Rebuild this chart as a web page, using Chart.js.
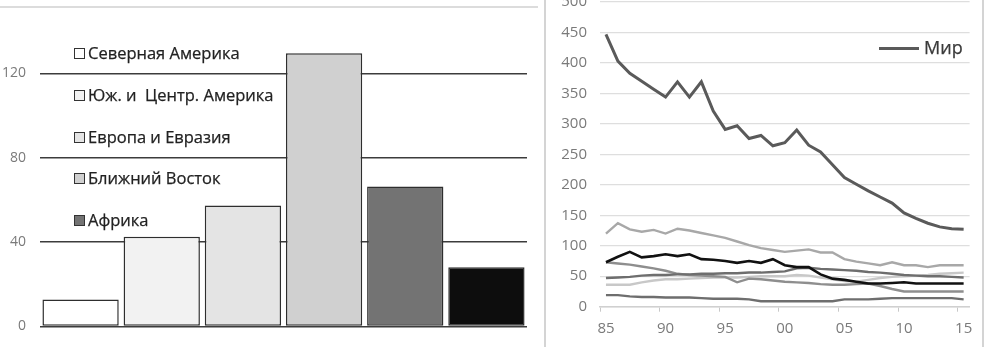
<!DOCTYPE html>
<html>
<head>
<meta charset="utf-8">
<script src="https://cdn.jsdelivr.net/npm/chart.js@4.4.0/dist/chart.umd.min.js"></script>
<style>
body { margin: 0; background: #fff; font-family: "Open Sans", sans-serif; }
#page { position: relative; width: 985px; height: 347px; overflow: hidden; }
#leftBox { position: absolute; left: 0; top: 0; width: 540px; height: 347px; }
#rightBox { position: absolute; left: 545px; top: 0; width: 440px; height: 347px; }
.topline { position: absolute; left: 0; top: 6px; width: 538px; border-top: 2px solid #dcdcdc; }
.vline { position: absolute; top: 0; height: 347px; border-left: 2px solid #d4d4d4; }
.item { position: absolute; left: 74px; white-space: pre; font-size: 16.5px; color: #222; line-height: 22px; -webkit-text-stroke: 0.25px #222; }
.item i { display: inline-block; width: 9px; height: 9px; border: 1.5px solid #333; margin-right: 3px; vertical-align: 0px; }
#worldKey { position: absolute; left: 879px; top: 47px; width: 40px; border-top: 3px solid #5a5a5a; }
#worldText { position: absolute; left: 924px; top: 35px; font-size: 18px; color: #3a3a3a; line-height: 24px; -webkit-text-stroke: 0.25px #3a3a3a; }
</style>
</head>
<body>
<div id="page">
  <div class="topline"></div>
  <div id="leftBox"><canvas id="barChart" width="540" height="347"></canvas></div>
  <div id="legendLeft"></div>
  <div class="vline" style="left:544px"></div>
  <div id="rightBox"><canvas id="lineChart" width="440" height="347"></canvas></div>
  <div class="vline" style="left:982px"></div>
  <div id="worldKey"></div>
  <div id="worldText">Мир</div>
</div>
<script>
// ---- левая диаграмма: R/P по регионам ----
const regions = ['Северная Америка', 'Юж. и  Центр. Америка', 'Европа и Евразия', 'Ближний Восток', 'Африка', 'АТР'];
const rpValues = [12.8, 42.5, 57.4, 129.5, 66.4, 28.1];
const barColors = ['#ffffff', '#f2f2f2', '#e4e4e4', '#d0d0d0', '#737373', '#0d0d0d'];
const leftTicks = [0, 40, 80, 120];

// ---- правая диаграмма: динамика 1985-2015 ----
const years = [1985, 1986, 1987, 1988, 1989, 1990, 1991, 1992, 1993, 1994, 1995, 1996, 1997, 1998, 1999, 2000,
               2001, 2002, 2003, 2004, 2005, 2006, 2007, 2008, 2009, 2010, 2011, 2012, 2013, 2014, 2015];
const world = [447, 403, 383, 370, 357, 344, 369, 344, 369, 321, 291, 297, 276, 281, 264, 269,
               290, 265, 254, 233, 212, 201, 190, 180, 170, 154, 145, 137, 131, 128, 127];
const seriesA = [120, 137, 127, 123, 126, 120, 128, 125, 121, 117, 113, 107, 101, 96, 93, 90,
                 92, 94, 89, 89, 78, 74, 71, 68, 73, 68, 68, 65, 68, 68, 68];
const seriesB = [73, 82, 90, 81, 83, 86, 83, 86, 78, 77, 75, 72, 75, 72, 78, 68,
                 65, 65, 53, 46, 44, 41, 38, 38, 39, 40, 38, 38, 38, 38, 38];
const seriesC = [73, 71, 69, 66, 63, 59, 54, 52, 51, 50, 49, 40, 46, 45, 43, 41,
                 40, 39, 37, 36, 36, 37, 38, 34, 29, 25, 25, 25, 25, 25, 25];
const seriesD = [47, 48, 49, 51, 52, 52, 53, 53, 54, 54, 55, 55, 56, 56, 57, 58,
                 63, 64, 62, 61, 60, 59, 57, 56, 54, 52, 51, 50, 50, 49, 48];
const seriesE = [36, 36, 36, 40, 43, 45, 45, 46, 47, 48, 48, 48, 49, 50, 50, 50,
                 52, 51, 48, 45, 42, 41, 44, 47, 49, 50, 51, 52, 54, 55, 56];
const seriesF = [19, 19, 17, 16, 16, 15, 15, 15, 14, 13, 13, 13, 12, 9, 9, 9,
                 9, 9, 9, 9, 12, 12, 12, 13, 14, 14, 14, 14, 14, 14, 12];

Chart.defaults.font.family = '"Open Sans", sans-serif';
Chart.defaults.animation = false;

// легенда слева (в Excel видны только первые пять)
const legendBox = document.getElementById('legendLeft');
for (let i = 0; i < 5; i++) {
    const el = document.createElement('div');
    el.className = 'item';
    el.style.top = (42 + i * 41.8) + 'px';
    el.innerHTML = '<i style="background:' + barColors[i] + '"></i>' + regions[i];
    legendBox.appendChild(el);
}

// убираем автоматический отступ под подписи, чтобы область графика совпала
const noPad = (w) => (s) => { s.width = w; s.paddingTop = 0; s.paddingBottom = 0; };

new Chart(document.getElementById('barChart'), {
    type: 'bar',
    data: {
        labels: regions,
        datasets: [{
            data: rpValues,
            backgroundColor: barColors,
            borderColor: '#2e2e2e',
            borderWidth: 1.5,
            borderSkipped: false,
            categoryPercentage: 1,
            barPercentage: 0.94
        }]
    },
    options: {
        responsive: false,
        devicePixelRatio: 1,
        layout: { padding: { top: 10, right: 13, bottom: 20.5, left: 0 } },
        plugins: { legend: { display: false }, tooltip: { enabled: false } },
        scales: {
            x: { display: false },
            y: {
                min: 0, max: 150,
                afterBuildTicks: s => { s.ticks = leftTicks.map(v => ({ value: v })); },
                afterFit: noPad(40),
                border: { display: false },
                grid: { color: '#3c3c3c', lineWidth: 1.5, drawTicks: false },
                ticks: { color: '#7a7a7a', font: { size: 14 }, padding: 14 }
            }
        }
    }
});

const lineSet = (data, color, width) => ({
    data: data, borderColor: color, borderWidth: width,
    pointRadius: 0, tension: 0, fill: false
});

new Chart(document.getElementById('lineChart'), {
    type: 'line',
    data: {
        labels: years,
        datasets: [
            Object.assign(lineSet(world, '#5a5a5a', 3), { label: 'Мир' }),
            lineSet(seriesB, '#111111', 2.6),
            lineSet(seriesD, '#6e6e6e', 2.4),
            lineSet(seriesA, '#a8a8a8', 2.4),
            lineSet(seriesC, '#8e8e8e', 2.4),
            lineSet(seriesE, '#c8c8c8', 2.4),
            lineSet(seriesF, '#6e6e6e', 2.4)
        ]
    },
    options: {
        responsive: false,
        devicePixelRatio: 1,
        layout: { padding: { top: 2, right: 15.4, bottom: 0, left: 0 } },
        plugins: { legend: { display: false }, tooltip: { enabled: false } },
        scales: {
            x: {
                offset: true,
                afterFit: s => { s.height = 40.3; },
                border: { display: true, color: '#d0d0d0', width: 1.5 },
                grid: {
                    offset: true, drawOnChartArea: false, tickLength: 5,
                    color: c => (c.index % 5 === 0 ? '#c8c8c8' : 'rgba(0,0,0,0)')
                },
                ticks: {
                    autoSkip: false, maxRotation: 0, padding: 8,
                    color: '#7a7a7a', font: { size: 15 },
                    callback: (v, i) => (i % 5 === 0 ? String(years[i]).slice(2) : '')
                }
            },
            y: {
                min: 0, max: 500,
                afterFit: noPad(55),
                border: { display: false },
                grid: { color: '#dedede', lineWidth: 1.3, drawTicks: false },
                ticks: { stepSize: 50, color: '#7a7a7a', font: { size: 15 }, padding: 13 }
            }
        }
    }
});
</script>
</body>
</html>
